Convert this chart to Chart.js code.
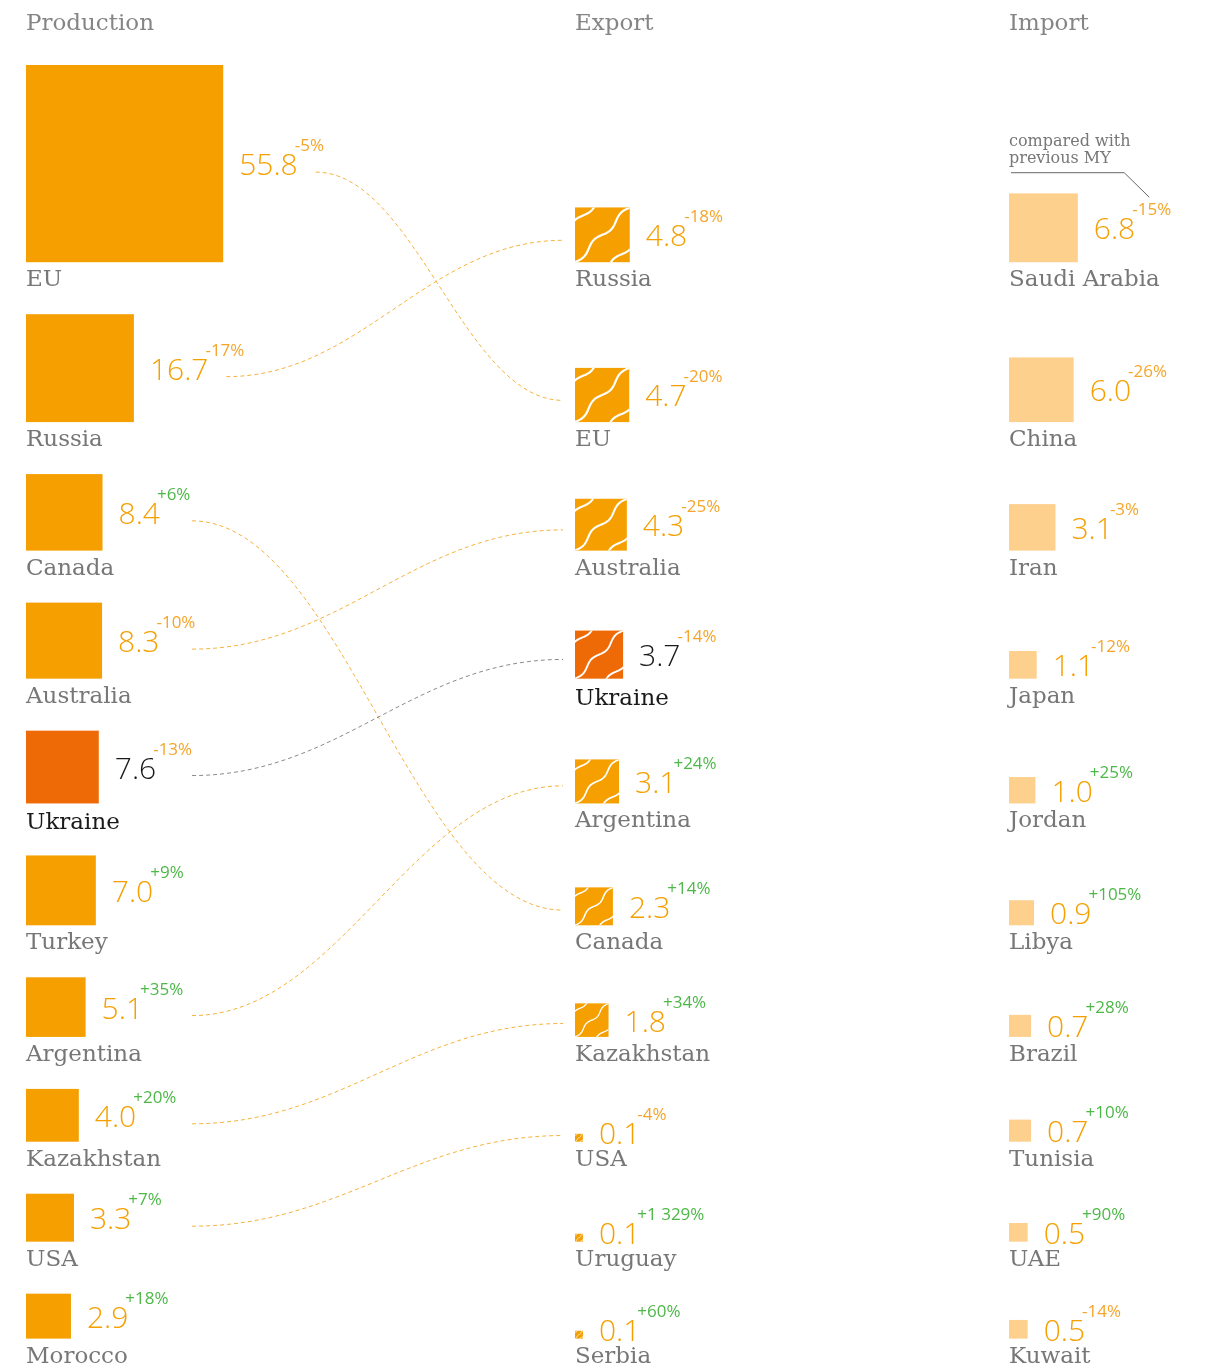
<!DOCTYPE html>
<html><head><meta charset="utf-8">
<script src="https://cdn.jsdelivr.net/npm/chart.js@4.4.1/dist/chart.umd.min.js"></script>
<style>html,body{margin:0;padding:0;background:#fff;}canvas{display:block}</style>
</head><body>
<canvas id="c" width="1205" height="1371"></canvas>
<script>
// ---------- data ----------
const columnTitles = ['Production', 'Export', 'Import'];

const prodNames  = ['EU','Russia','Canada','Australia','Ukraine','Turkey','Argentina','Kazakhstan','USA','Morocco'];
const prodValues = [55.8,16.7,8.4,8.3,7.6,7.0,5.1,4.0,3.3,2.9];
const prodChange = ['-5%','-17%','+6%','-10%','-13%','+9%','+35%','+20%','+7%','+18%'];

const expNames  = ['Russia','EU','Australia','Ukraine','Argentina','Canada','Kazakhstan','USA','Uruguay','Serbia'];
const expValues = [4.8,4.7,4.3,3.7,3.1,2.3,1.8,0.1,0.1,0.1];
const expChange = ['-18%','-20%','-25%','-14%','+24%','+14%','+34%','-4%','+1 329%','+60%'];

const impNames  = ['Saudi Arabia','China','Iran','Japan','Jordan','Libya','Brazil','Tunisia','UAE','Kuwait'];
const impValues = [6.8,6.0,3.1,1.1,1.0,0.9,0.7,0.7,0.5,0.5];
const impChange = ['-15%','-26%','-3%','-12%','+25%','+105%','+28%','+10%','+90%','-14%'];

const noteLines = ['compared with', 'previous MY'];
const highlight = 'Ukraine';

// ---------- style / layout ----------
const W = 1205, H = 1371;
const COL_LEFT = [26, 575, 1009];
const PX_PER_SQRT = [26.4, 25, 26.4];
const TOP = 65, GAP = 52;
const ORANGE = '#F5A000', UKR = '#EE6A06', LIGHT = '#FDD08E';
const GREY = '#777777', DARK = '#1a1a1a', GREEN = '#4DB848', PCT_ORANGE = '#F5A52A';
const CURVE = '#F6B23E', CURVE_UKR = '#8a8a8a';
const LABEL_FONT = '23px "DejaVu Serif"';
const VALUE_FONT = '300 30px "Open Sans"';
const PCT_FONT = '17px "Open Sans"';
const NOTE_FONT = '16px "DejaVu Serif"';

// row bottoms derived from production square sizes
const rowBottom = [];
(function(){ let acc = TOP; prodValues.forEach((v,i)=>{ acc += (i ? GAP : 0) + Math.sqrt(v) * PX_PER_SQRT[0]; rowBottom.push(acc); }); })();

const columns = [
  {names: prodNames, values: prodValues, change: prodChange},
  {names: expNames, values: expValues, change: expChange},
  {names: impNames, values: impValues, change: impChange}
];

function cellLayout(chart, c, i) {
  const ys = chart.scales.y;
  const unit = Math.abs(ys.getPixelForValue(1) - ys.getPixelForValue(0));
  const el = chart.getDatasetMeta(c).data[i];
  const v = columns[c].values[i];
  const s = Math.sqrt(v) * PX_PER_SQRT[c] * unit;
  const x0 = el.x, yb = el.y;
  const ctx = chart.ctx;
  ctx.save(); ctx.font = VALUE_FONT;
  const txt = v.toFixed(1);
  const vw = ctx.measureText(txt).width;
  ctx.restore();
  const valX = x0 + s + 16;
  const valBase = Math.min(yb + 2, yb - s / 2 + 11.5);
  return {x0, yb, s, txt, valX, valBase, valRight: valX + vw};
}

function drawWave(ctx, x, y, s) {
  ctx.save();
  ctx.beginPath(); ctx.rect(x, y, s, s); ctx.clip();
  ctx.strokeStyle = '#fff';
  ctx.lineWidth = Math.max(0.8, s * 0.04);
  const cx = x + s / 2, cy = y + s / 2, r = Math.SQRT1_2;
  [-0.5, 0, 0.5].forEach(off => {
    ctx.beginPath();
    for (let k = 0; k <= 80; k++) {
      const u = -0.8 + 1.6 * k / 80;
      const v = off + 0.045 * Math.sin(2 * Math.PI * u / 0.7);
      const px = cx + (u + v) * r * s, py = cy + (-u + v) * r * s;
      if (k) ctx.lineTo(px, py); else ctx.moveTo(px, py);
    }
    ctx.stroke();
  });
  ctx.restore();
}

const infographic = {
  id: 'infographic',
  beforeDatasetsDraw(chart) {
    const ctx = chart.ctx;
    // connecting curves production -> export
    prodNames.forEach((name, i) => {
      const j = expNames.indexOf(name);
      if (j < 0) return;
      const a = cellLayout(chart, 0, i), b = cellLayout(chart, 1, j);
      const sx = Math.max(a.valRight + 18, 192), sy = a.valBase - 3;
      const ex = b.x0 - 12, ey = b.yb - 0.4 * b.s - (b.s < 12 ? 3 : 0);
      const d = (ex - sx) * 0.4;
      ctx.save();
      ctx.strokeStyle = name === highlight ? CURVE_UKR : CURVE;
      ctx.lineWidth = 1;
      ctx.setLineDash([4, 3]);
      ctx.beginPath();
      ctx.moveTo(sx, sy);
      ctx.bezierCurveTo(sx + d, sy, ex - d, ey, ex, ey);
      ctx.stroke();
      ctx.restore();
    });
  },
  afterDatasetsDraw(chart) {
    const ctx = chart.ctx;
    const xs = chart.scales.x, ys = chart.scales.y;
    // column titles
    ctx.save();
    ctx.font = LABEL_FONT; ctx.fillStyle = '#858585'; ctx.textBaseline = 'alphabetic';
    columnTitles.forEach((t, c) => ctx.fillText(t, xs.getPixelForValue(COL_LEFT[c]), ys.getPixelForValue(30)));
    ctx.restore();

    columns.forEach((col, c) => {
      col.names.forEach((name, i) => {
        const L = cellLayout(chart, c, i);
        const hi = name === highlight;
        // square
        ctx.save();
        ctx.fillStyle = c === 2 ? LIGHT : (hi ? UKR : ORANGE);
        ctx.fillRect(L.x0, L.yb - L.s, L.s, L.s);
        ctx.restore();
        if (c === 1) drawWave(ctx, L.x0, L.yb - L.s, L.s);
        // value
        ctx.save();
        ctx.textBaseline = 'alphabetic';
        ctx.font = VALUE_FONT;
        ctx.fillStyle = hi ? DARK : ORANGE;
        ctx.fillText(L.txt, L.valX, L.valBase);
        // change
        const ch = col.change[i];
        ctx.font = PCT_FONT;
        ctx.fillStyle = ch.startsWith('+') ? GREEN : PCT_ORANGE;
        ctx.fillText(ch, L.valRight - 3, L.valBase - 24);
        // label
        ctx.font = LABEL_FONT;
        ctx.fillStyle = hi ? DARK : GREY;
        ctx.fillText(name, L.x0, L.yb + (hi ? 26 : 24));
        ctx.restore();

        // note on first import cell
        if (c === 2 && i === 0) {
          ctx.save();
          ctx.font = NOTE_FONT; ctx.fillStyle = GREY;
          ctx.fillText(noteLines[0], L.x0, L.yb - 116);
          ctx.fillText(noteLines[1], L.x0, L.yb - 99);
          ctx.strokeStyle = '#666'; ctx.lineWidth = 1;
          ctx.beginPath();
          const px = L.valRight - 3 + 17;
          ctx.moveTo(L.x0 + 2, L.yb - 89.5);
          ctx.lineTo(px - 25, L.yb - 89.5);
          ctx.lineTo(px, L.yb - 65);
          ctx.stroke();
          ctx.restore();
        }
      });
    });
  }
};

new Chart(document.getElementById('c'), {
  type: 'scatter',
  data: {
    datasets: columns.map((col, c) => ({
      label: columnTitles[c],
      data: col.values.map((v, i) => ({x: COL_LEFT[c], y: rowBottom[i]})),
      pointRadius: 0,
      pointHoverRadius: 0
    }))
  },
  options: {
    responsive: false,
    animation: false,
    events: [],
    layout: {padding: 0},
    plugins: {legend: {display: false}, tooltip: {enabled: false}},
    scales: {
      x: {type: 'linear', display: false, min: 0, max: W},
      y: {type: 'linear', display: false, min: 0, max: H, reverse: true}
    }
  },
  plugins: [infographic]
});
</script>
</body></html>
